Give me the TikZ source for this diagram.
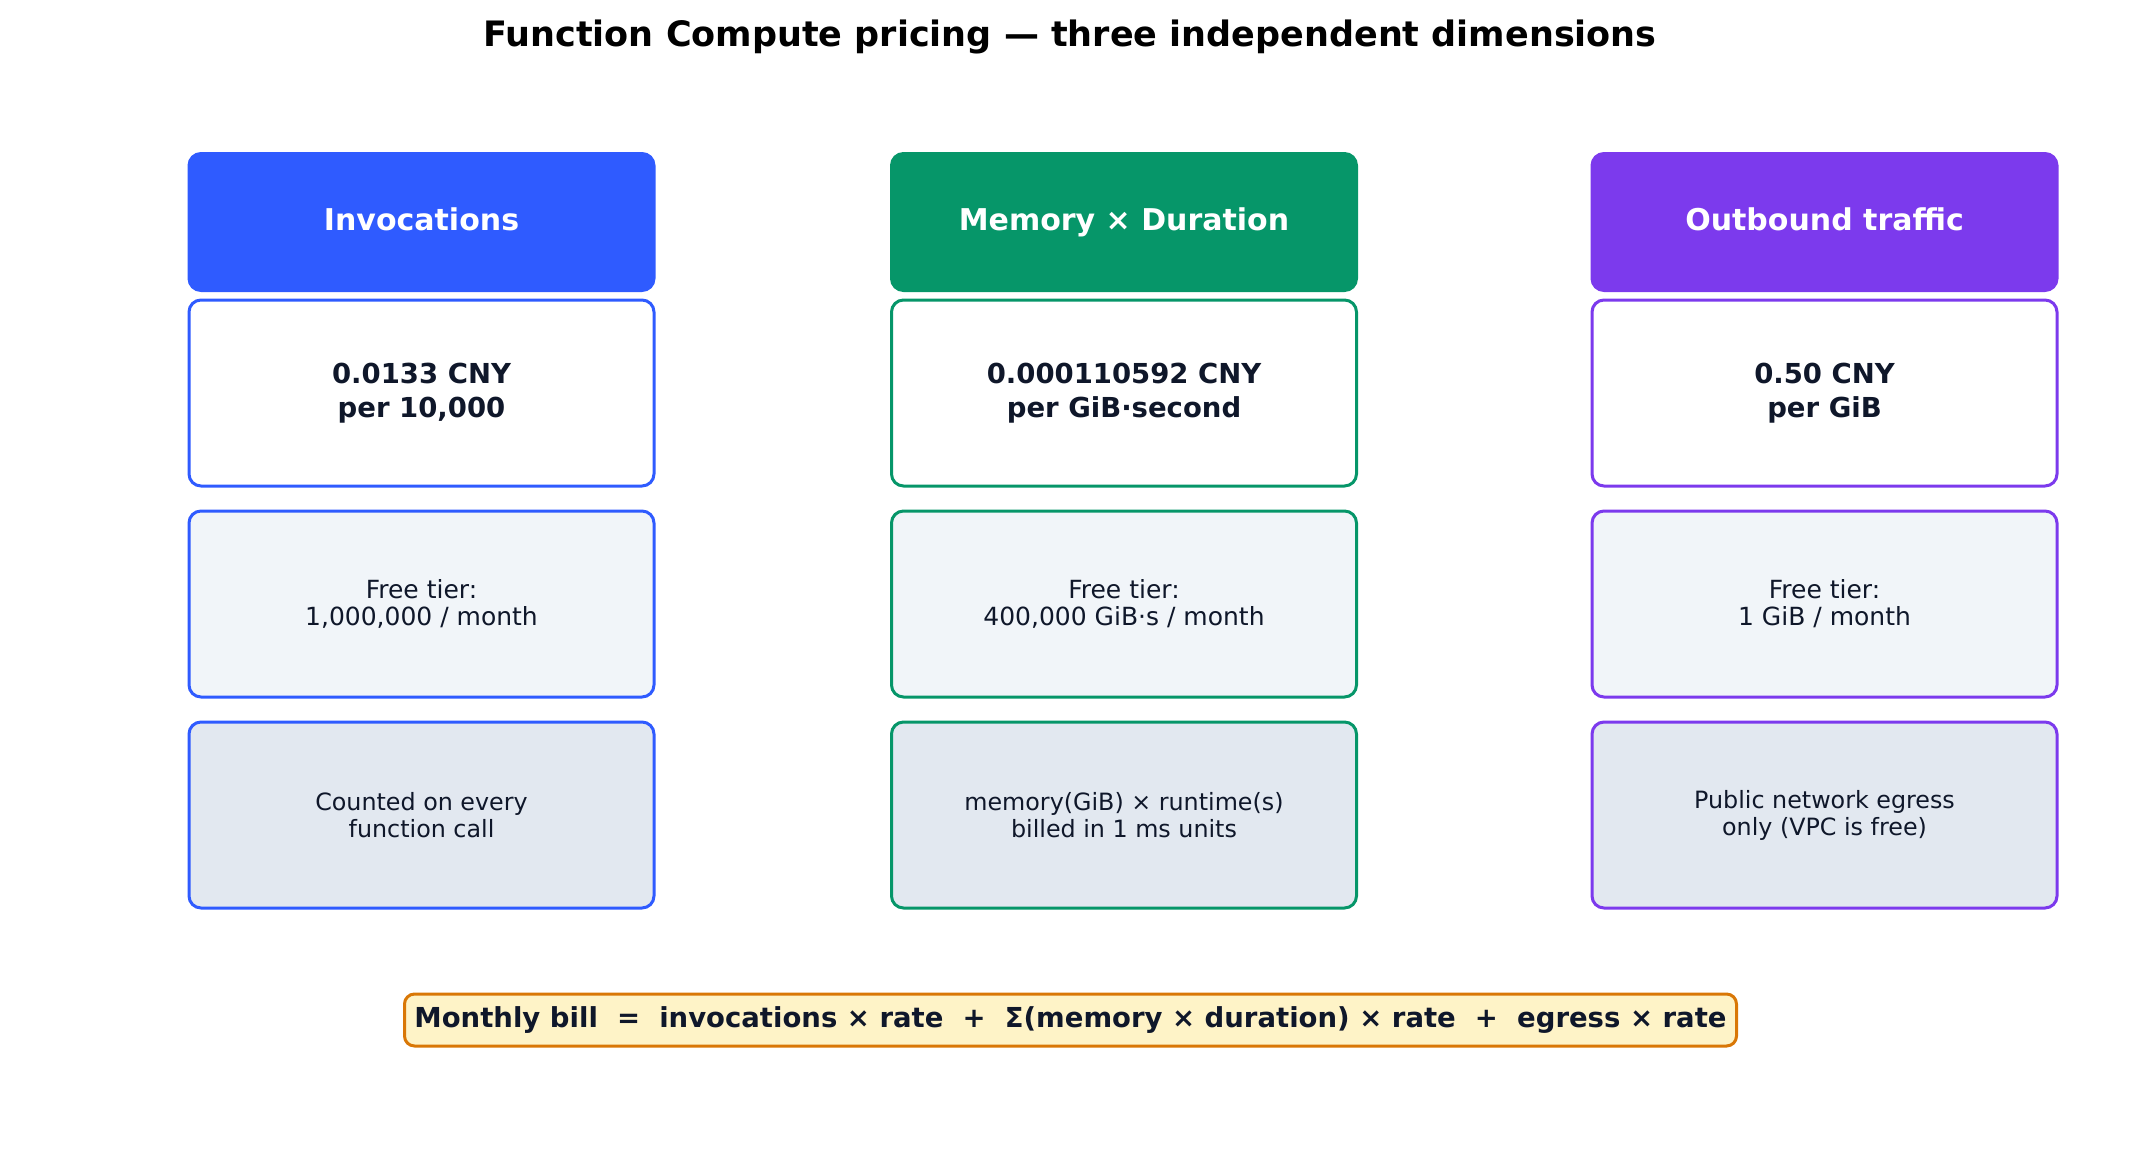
\documentclass[tikz,border=0pt]{standalone}
\usepackage{fontspec}
\setmainfont{DejaVu Sans}
\usepackage{xcolor}
\definecolor{invblue}{RGB}{47, 91, 255}
\definecolor{memgreen}{RGB}{6, 150, 105}
\definecolor{trafpurple}{RGB}{124, 58, 237}
\definecolor{inkslate}{RGB}{15, 23, 42}
\definecolor{freefill}{RGB}{241, 245, 249}
\definecolor{notefill}{RGB}{226, 232, 240}
\definecolor{billfill}{RGB}{254, 243, 199}
\definecolor{billedge}{RGB}{217, 119, 6}
\usepackage{tikz}
\usetikzlibrary{positioning}

\begin{document}
\begin{tikzpicture}[x=1pt, y=-1pt,
    card/.style={rectangle, rounded corners=12pt, line width=3pt, minimum width=465pt, inner sep=0pt, align=center, text=inkslate},
    headcard/.style={card, fill=#1, draw=#1, minimum height=137pt, text=white, text height=22pt, text depth=6pt, font=\fontsize{30}{36}\selectfont\bfseries},
    ratecard/.style={card, draw=#1, fill=white, minimum height=186pt, font=\fontsize{27.5}{34}\selectfont\bfseries},
    freecard/.style={card, draw=#1, fill=freefill, minimum height=186pt, font=\fontsize{25}{27}\selectfont},
    notecard/.style={card, draw=#1, fill=notefill, minimum height=186pt, font=\fontsize{23.8}{27}\selectfont}]
    \useasboundingbox (0,0) rectangle (2141,1152);
    \node[font=\fontsize{35}{42}\selectfont\bfseries] (title) at (1070, 37) {Function Compute pricing — three independent dimensions};
    \begin{scope}[shift={(421.5,0)}]
        \node[headcard=invblue] (invHead) at (0, 222) {Invocations};
        \node[ratecard=invblue] (invRate) at (0, 393) {0.0133 CNY\\per 10,000};
        \node[freecard=invblue, below=22pt of invRate] (invFree) {Free tier:\\1,000,000 / month};
        \node[notecard=invblue, below=22pt of invFree] (invNote) {Counted on every\\function call};
    \end{scope}
    \begin{scope}[shift={(1124,0)}]
        \node[headcard=memgreen] (memHead) at (0, 222) {Memory × Duration};
        \node[ratecard=memgreen] (memRate) at (0, 393) {0.000110592 CNY\\per GiB·second};
        \node[freecard=memgreen, below=22pt of memRate] (memFree) {Free tier:\\400,000 GiB·s / month};
        \node[notecard=memgreen, below=22pt of memFree] (memNote) {memory(GiB) × runtime(s)\\billed in 1 ms units};
    \end{scope}
    \begin{scope}[shift={(1824.5,0)}]
        \node[headcard=trafpurple] (trafHead) at (0, 222) {Outbound traffic};
        \node[ratecard=trafpurple] (trafRate) at (0, 393) {0.50 CNY\\per GiB};
        \node[freecard=trafpurple, below=22pt of trafRate] (trafFree) {Free tier:\\1 GiB / month};
        \node[notecard=trafpurple, below=22pt of trafFree] (trafNote) {Public network egress\\only (VPC is free)};
    \end{scope}
    \node[rectangle, rounded corners=10pt, line width=3pt, draw=billedge, fill=billfill, minimum width=1332pt, minimum height=52pt, inner sep=0pt, text=inkslate, font=\fontsize{27.5}{33}\selectfont\bfseries] (bill) at (1070.5, 1020) {Monthly bill \ = \ invocations × rate \ + \ Σ(memory × duration) × rate \ + \ egress × rate};
\end{tikzpicture}
\end{document}
